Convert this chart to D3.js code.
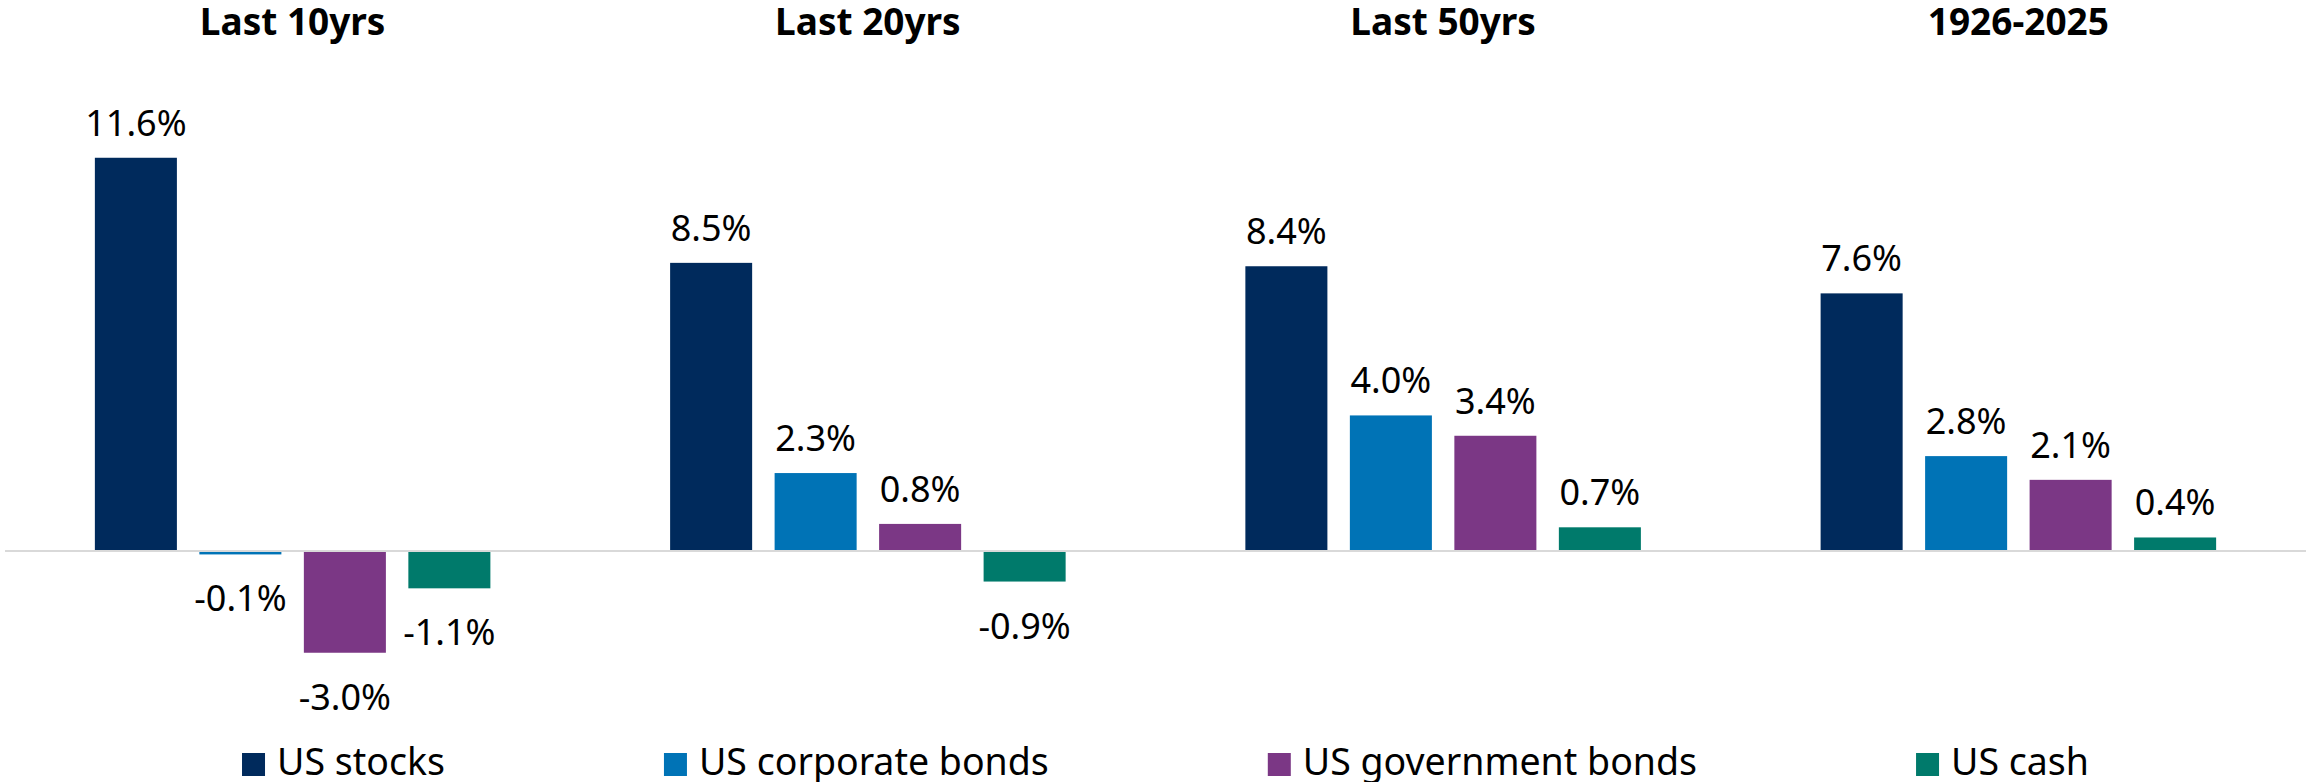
<!DOCTYPE html>
<html>
<head>
<meta charset="utf-8">
<script src="https://cdn.jsdelivr.net/npm/d3@7"></script>
<style>
    html, body { margin: 0; padding: 0; background: #fff; }
    svg text { font-family: "Noto Sans", "Open Sans", sans-serif; fill: #000; }
    .title { font-weight: bold; font-size: 37px; }
    .value { font-size: 36px; }
    .legend text { font-size: 37.5px; }
</style>
</head>
<body>
<div class="graph"></div>
<script>
    const periods = ["Last 10yrs", "Last 20yrs", "Last 50yrs", "1926-2025"];
    const series = ["US stocks", "US corporate bonds", "US government bonds", "US cash"];
    const colors = ["#002a5c", "#0073b6", "#7b3785", "#007a6b"];

    // returns per period, in series order
    const usStocks = [11.6, 8.5, 8.4, 7.6];
    const usCorpBonds = [-0.1, 2.3, 4.0, 2.8];
    const usGovBonds = [-3.0, 0.8, 3.4, 2.1];
    const usCash = [-1.1, -0.9, 0.7, 0.4];

    (function () {
        const width = 2306;
        const height = 782;
        const allValues = [usStocks, usCorpBonds, usGovBonds, usCash];

        const data = periods.map(function (p, i) {
            return {
                period: p,
                values: series.map(function (s, j) {
                    return {series: s, value: allValues[j][i]};
                })
            };
        });

        const svg = d3.select(".graph").append("svg")
            .attr("width", width)
            .attr("height", height);

        const x0 = d3.scaleBand()
            .domain(periods)
            .range([5, width]);

        const x1 = d3.scaleBand()
            .domain(series)
            .range([0, x0.bandwidth()])
            .paddingInner(0.215)
            .paddingOuter(0.86);

        const y = d3.scaleLinear()
            .domain([-4.5, 12])
            .range([703.6, 144.2]);

        const color = d3.scaleOrdinal()
            .domain(series)
            .range(colors);

        // period titles
        svg.append("g").selectAll("text.title")
            .data(periods)
            .enter()
            .append("text")
            .attr("class", "title")
            .attr("x", function (d) { return x0(d) + x0.bandwidth() / 2; })
            .attr("y", 35)
            .attr("text-anchor", "middle")
            .text(function (d) { return d; });

        const groups = svg.append("g").selectAll("g.period")
            .data(data)
            .enter()
            .append("g")
            .attr("class", "period")
            .attr("transform", function (d) { return "translate(" + x0(d.period) + ",0)"; });

        groups.selectAll("rect")
            .data(function (d) { return d.values; })
            .enter()
            .append("rect")
            .attr("x", function (d) { return x1(d.series); })
            .attr("width", x1.bandwidth())
            .attr("y", function (d) { return y(Math.max(0, d.value)); })
            .attr("height", function (d) { return Math.abs(y(d.value) - y(0)); })
            .style("fill", function (d) { return color(d.series); });

        groups.selectAll("text.value")
            .data(function (d) { return d.values; })
            .enter()
            .append("text")
            .attr("class", "value")
            .attr("x", function (d) { return x1(d.series) + x1.bandwidth() / 2; })
            .attr("y", function (d) {
                return d.value >= 0 ? y(d.value) - 22 : y(d.value) + 57;
            })
            .attr("text-anchor", "middle")
            .text(function (d) { return d.value.toFixed(1) + "%"; });

        // zero line
        svg.append("line")
            .attr("x1", 5)
            .attr("x2", width)
            .attr("y1", y(0))
            .attr("y2", y(0))
            .style("stroke", "#d9d9d9")
            .style("stroke-width", 2);

        // legend
        const legend = svg.append("g").attr("class", "legend");
        const items = legend.selectAll("g")
            .data(series)
            .enter()
            .append("g");

        items.append("rect")
            .attr("y", 753)
            .attr("width", 23)
            .attr("height", 23)
            .style("fill", function (d) { return color(d); });

        items.append("text")
            .attr("x", 35)
            .attr("y", 775)
            .text(function (d) { return d; });

        const gap = 219;
        const widths = [];
        items.each(function () {
            widths.push(35 + d3.select(this).select("text").node().getComputedTextLength());
        });
        const total = d3.sum(widths) + gap * (widths.length - 1);
        let cx = (5 + width) / 2 + 10 - total / 2;
        items.attr("transform", function (d, i) {
            const t = "translate(" + cx + ",0)";
            cx += widths[i] + gap;
            return t;
        });
    })();
</script>
</body>
</html>
